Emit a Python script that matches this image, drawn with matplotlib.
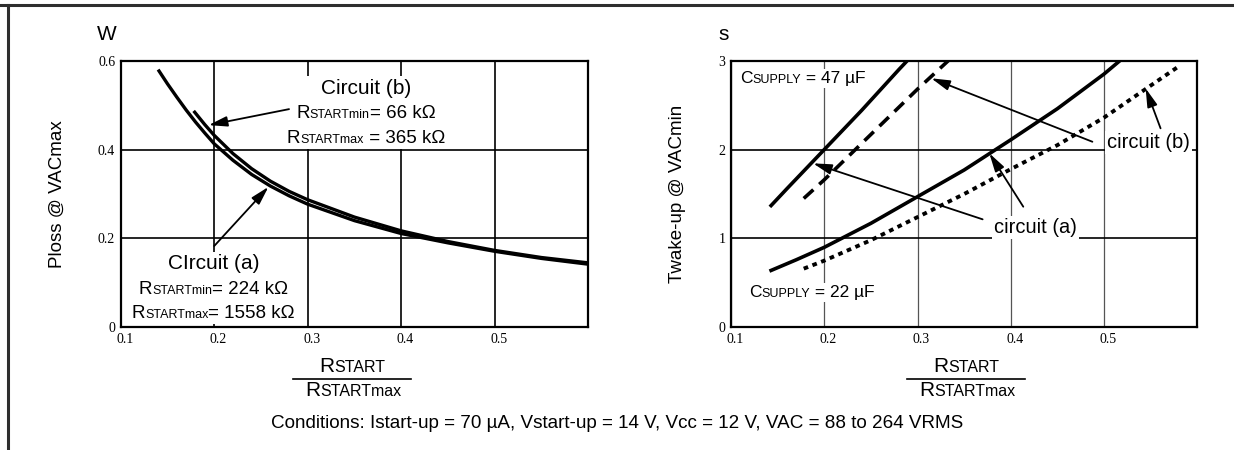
import matplotlib
matplotlib.use("Agg")
import matplotlib.pyplot as plt
from matplotlib.offsetbox import TextArea, HPacker, VPacker, AnnotationBbox
from matplotlib.lines import Line2D
from matplotlib.transforms import ScaledTranslation

# ---------------- data ----------------
x_ticks = [0.1, 0.2, 0.3, 0.4, 0.5]
x_tick_labels = ["0.1", "0.2", "0.3", "0.4", "0.5"]
p_ticks = [0, 0.2, 0.4, 0.6]
p_tick_labels = ["0", "0.2", "0.4", "0.6"]
t_ticks = [0, 1, 2, 3]
t_tick_labels = ["0", "1", "2", "3"]

# Left chart: Ploss vs RSTART/RSTARTmax
ploss_a_x = [0.14, 0.15, 0.16, 0.17, 0.18, 0.19, 0.2, 0.22, 0.24, 0.26, 0.28, 0.3,
             0.35, 0.4, 0.45, 0.5, 0.55, 0.6]
ploss_a_y = [0.58, 0.548, 0.518, 0.489, 0.462, 0.437, 0.413, 0.376, 0.344, 0.318, 0.296, 0.277,
             0.24, 0.211, 0.19, 0.171, 0.155, 0.142]
ploss_b_x = [0.178, 0.19, 0.2, 0.22, 0.24, 0.26, 0.28, 0.3, 0.35, 0.4, 0.45, 0.5, 0.55, 0.6]
ploss_b_y = [0.487, 0.456, 0.432, 0.391, 0.357, 0.329, 0.306, 0.287, 0.248, 0.217, 0.193,
             0.173, 0.157, 0.145]

# Right chart: Twake-up vs RSTART/RSTARTmax
t47_a_x = [0.143, 0.16, 0.18, 0.2, 0.22, 0.24, 0.26, 0.28, 0.289]
t47_a_y = [1.37, 1.56, 1.78, 2.0, 2.22, 2.44, 2.67, 2.9, 3.0]
t47_b_x = [0.178, 0.2, 0.25, 0.3, 0.333]
t47_b_y = [1.45, 1.66, 2.17, 2.68, 3.0]
t22_a_x = [0.143, 0.17, 0.2, 0.25, 0.3, 0.35, 0.4, 0.45, 0.5, 0.517]
t22_a_y = [0.64, 0.76, 0.9, 1.17, 1.47, 1.77, 2.11, 2.46, 2.85, 3.0]
t22_b_x = [0.178, 0.2, 0.25, 0.3, 0.35, 0.4, 0.45, 0.5, 0.55, 0.582]
t22_b_y = [0.66, 0.75, 0.98, 1.24, 1.5, 1.78, 2.05, 2.36, 2.72, 2.95]

SANS = "Liberation Sans"
SERIF = "Liberation Serif"

fig = plt.figure(figsize=(12.34, 4.5), dpi=100)
fig.patch.set_facecolor("white")

# document frame
fig.add_artist(Line2D([0, 1], [1 - 5.3 / 450] * 2, transform=fig.transFigure,
                      color="#2e2e2e", lw=2.2))
fig.add_artist(Line2D([8 / 1234] * 2, [0, 1 - 5.3 / 450], transform=fig.transFigure,
                      color="#2e2e2e", lw=2.2))

axL = fig.add_axes([120.7 / 1234, 1 - 327.3 / 450, 467.6 / 1234, 266.6 / 450])
axR = fig.add_axes([731 / 1234, 1 - 327.3 / 450, 466.3 / 1234, 266.6 / 450])


def style_axes(ax, yticks, ylabels, ylim, vgrid_color, vgrid_lw):
    ax.set_xlim(0.1, 0.6)
    ax.set_ylim(*ylim)
    ax.set_xticks(x_ticks)
    ax.set_xticklabels(x_tick_labels)
    ax.set_yticks(yticks)
    ax.set_yticklabels(ylabels)
    ax.tick_params(length=0, pad=4, labelsize=10)
    for lab in ax.get_xticklabels() + ax.get_yticklabels():
        lab.set_family(SERIF)
    for lab in ax.get_xticklabels():
        lab.set_transform(lab.get_transform() + ScaledTranslation(4 / 100, 0, fig.dpi_scale_trans))
    for s in ax.spines.values():
        s.set_linewidth(1.6)
        s.set_color("black")
    ax.set_axisbelow(True)
    ax.grid(True, axis="y", color="black", lw=1.2)
    ax.grid(True, axis="x", color=vgrid_color, lw=vgrid_lw)


style_axes(axL, p_ticks, p_tick_labels, (0, 0.6), "black", 1.2)
style_axes(axR, t_ticks, t_tick_labels, (0, 3), "#555555", 0.9)


def rich_line(parts, family=SANS):
    kids = [TextArea(t, textprops=dict(fontsize=s, family=family, color="black")) for t, s in parts]
    return HPacker(children=kids, align="baseline", pad=0, sep=0)


def place(ax, box, xy, white=True, zorder=4):
    ab = AnnotationBbox(box, xy, xycoords="data", frameon=white, box_alignment=(0.5, 0.5),
                        pad=0.15, bboxprops=dict(facecolor="white", edgecolor="none"))
    ab.set_zorder(zorder)
    ax.add_artist(ab)


# ---------------- left chart ----------------
axL.plot(ploss_a_x, ploss_a_y, color="black", lw=2.4, solid_capstyle="butt", zorder=3)
axL.plot(ploss_b_x, ploss_b_y, color="black", lw=2.4, solid_capstyle="butt", zorder=3)

blk_b = VPacker(children=[
    rich_line([("Circuit (b)", 15)]),
    rich_line([("R", 13.5), ("STARTmin", 9), ("= 66 kΩ", 13.5)]),
    rich_line([("R", 13.5), ("STARTmax", 9), (" = 365 kΩ", 13.5)]),
], align="center", pad=0, sep=5.5)
place(axL, blk_b, (0.362, 0.483))

blk_a = VPacker(children=[
    rich_line([("CIrcuit (a)", 15)]),
    rich_line([("R", 13.5), ("STARTmin", 9), ("= 224 kΩ", 13.5)]),
    rich_line([("R", 13.5), ("STARTmax", 9), ("= 1558 kΩ", 13.5)]),
], align="center", pad=0, sep=5.5)
place(axL, blk_a, (0.199, 0.088))

arrow_kw = dict(arrowstyle="-|>,head_length=0.8,head_width=0.22", lw=1.3, color="black",
                mutation_scale=14, shrinkA=0, shrinkB=0)
axL.annotate("", xy=(0.194, 0.455), xytext=(0.280, 0.491), arrowprops=arrow_kw, zorder=5)
axL.annotate("", xy=(0.258, 0.316), xytext=(0.200, 0.183), arrowprops=arrow_kw, zorder=5)

axL.text(-0.029, 1.10, "W", transform=axL.transAxes, fontsize=15, family=SANS,
         ha="center", va="center")
axL.text(-0.135, 0.5, "Ploss @ VACmax", transform=axL.transAxes, fontsize=13.5, family=SANS,
         rotation=90, ha="center", va="center")

# ---------------- right chart ----------------
axR.plot(t47_a_x, t47_a_y, color="black", lw=2.6, zorder=3)
axR.plot(t47_b_x, t47_b_y, color="black", lw=2.6, dashes=(3.6, 2.2), zorder=3)
axR.plot(t22_a_x, t22_a_y, color="black", lw=2.6, zorder=3)
axR.plot(t22_b_x, t22_b_y, color="black", lw=2.8, dashes=(1.2, 1.2), zorder=3)

place(axR, rich_line([("C", 12.5), ("SUPPLY", 9), (" = 47 µF", 12.5)]), (0.177, 2.80))
place(axR, rich_line([("C", 12.5), ("SUPPLY", 9), (" = 22 µF", 12.5)]), (0.187, 0.39))
place(axR, rich_line([("circuit (b)", 14.5)]), (0.548, 2.08))
place(axR, rich_line([("circuit (a)", 14.5)]), (0.426, 1.12))

axR.annotate("", xy=(0.3147, 2.802), xytext=(0.4875, 2.088), arrowprops=arrow_kw, zorder=5)
axR.annotate("", xy=(0.5446, 2.689), xytext=(0.5606, 2.239), arrowprops=arrow_kw, zorder=5)
axR.annotate("", xy=(0.188, 1.845), xytext=(0.3698, 1.215), arrowprops=arrow_kw, zorder=5)
axR.annotate("", xy=(0.377, 1.958), xytext=(0.4134, 1.357), arrowprops=arrow_kw, zorder=5)

axR.text(-0.015, 1.10, "s", transform=axR.transAxes, fontsize=15, family=SANS,
         ha="center", va="center")
axR.text(-0.115, 0.5, "Twake-up @ VACmin", transform=axR.transAxes, fontsize=13.5, family=SANS,
         rotation=90, ha="center", va="center")


# ---------------- x labels (fractions) ----------------
def frac(center_px):
    num = rich_line([("R", 15), ("START", 11.5)])
    den = rich_line([("R", 15), ("STARTmax", 11.5)])
    fig.add_artist(AnnotationBbox(num, (center_px / 1234, 1 - 367 / 450), xycoords="figure fraction",
                                  frameon=False, box_alignment=(0.5, 0.5)))
    fig.add_artist(AnnotationBbox(den, ((center_px + 1) / 1234, 1 - 391 / 450),
                                  xycoords="figure fraction", frameon=False, box_alignment=(0.5, 0.5)))
    fig.add_artist(Line2D([(center_px - 59) / 1234, (center_px + 59) / 1234],
                          [1 - 378.5 / 450] * 2, transform=fig.transFigure, color="black", lw=1.2))


frac(352)
frac(966)

fig.text(617 / 1234, 1 - 423 / 450,
         "Conditions: Istart-up = 70 µA, Vstart-up = 14 V, Vcc = 12 V, VAC = 88 to 264 VRMS",
         fontsize=13.6, family=SANS, ha="center", va="center")

fig.savefig("out.png", dpi=100, facecolor="white")
